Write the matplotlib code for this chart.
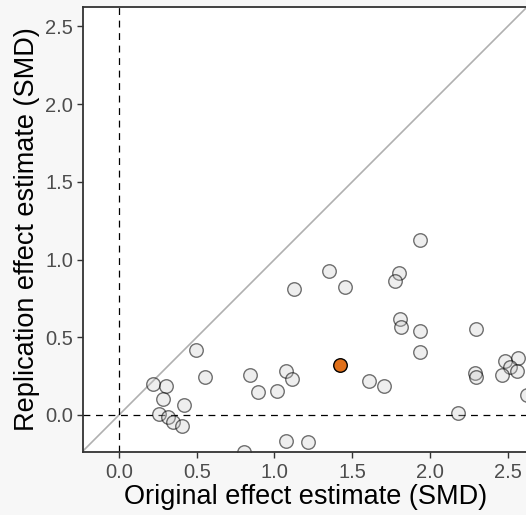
import numpy as np
import matplotlib
matplotlib.use("Agg")
import matplotlib.pyplot as plt

plt.rcParams['font.family'] = ['Liberation Sans', 'DejaVu Sans']

# original vs replication effect estimates (SMD)
orig_smd = [1.124, 0.497, 0.555, 0.221, 0.300, 0.285, 0.418, 0.257, 0.317, 0.349,
            0.403, 0.842, 0.894, 1.016, 1.072, 1.110, 1.072, 1.215, 0.804,
            1.934, 1.353, 1.455, 1.800, 1.777, 1.805, 1.811, 1.936, 1.936, 2.294,
            1.608, 1.704, 2.182, 2.289, 2.296, 2.482, 2.568, 2.514, 2.562, 2.461,
            2.625]
rep_smd = [0.812, 0.420, 0.242, 0.201, 0.184, 0.105, 0.064, 0.008, -0.013, -0.047,
           -0.071, 0.255, 0.148, 0.154, 0.281, 0.231, -0.165, -0.174, -0.236,
           1.123, 0.924, 0.823, 0.915, 0.860, 0.615, 0.568, 0.538, 0.405, 0.553,
           0.217, 0.184, 0.015, 0.268, 0.246, 0.347, 0.367, 0.311, 0.283, 0.259,
           0.130]
# highlighted study
hl_orig = [1.423]
hl_rep = [0.319]

W, H = 526, 515
fig = plt.figure(figsize=(W / 100, H / 100), dpi=100, facecolor='#f7f7f7')
ax = fig.add_axes([83 / W, (H - 452) / H, (528 - 83) / W, (452 - 7) / H])
ax.set_facecolor('white')

ax.set_xlim(-0.2315, (528 - 119) / 155.5)
ax.set_ylim(-0.238, 2.624)

ax.axline((0, 0), slope=1, color='#b0b0b0', lw=1.2, zorder=1)
ax.axhline(0, color='black', ls=(0, (5.5, 4.5)), lw=0.9, zorder=1)
ax.axvline(0, color='black', ls=(0, (5.5, 4.5)), lw=0.9, zorder=1)

ax.scatter(orig_smd, rep_smd, s=95, facecolor=(0.78, 0.78, 0.78, 0.3),
           edgecolor=(0, 0, 0, 0.55), linewidth=1.0, zorder=2)
ax.scatter(hl_orig, hl_rep, s=95, facecolor='#e0701a', edgecolor='black',
           linewidth=1.0, zorder=3)

ax.set_xticks([0.0, 0.5, 1.0, 1.5, 2.0, 2.5])
ax.set_yticks([0.0, 0.5, 1.0, 1.5, 2.0, 2.5])
ax.tick_params(direction='out', length=4, width=1.0, color='#333333',
               labelsize=14.5, labelcolor='#4d4d4d', pad=3)
ax.tick_params(axis='x', pad=4)
for sp in ax.spines.values():
    sp.set_color('#333333')
    sp.set_linewidth(1.3)

ax.set_xlabel('Original effect estimate (SMD)', fontsize=19.5, labelpad=1)
ax.set_ylabel('Replication effect estimate (SMD)', fontsize=19.5, labelpad=4)

fig.savefig('out.png', dpi=100, facecolor=fig.get_facecolor())
